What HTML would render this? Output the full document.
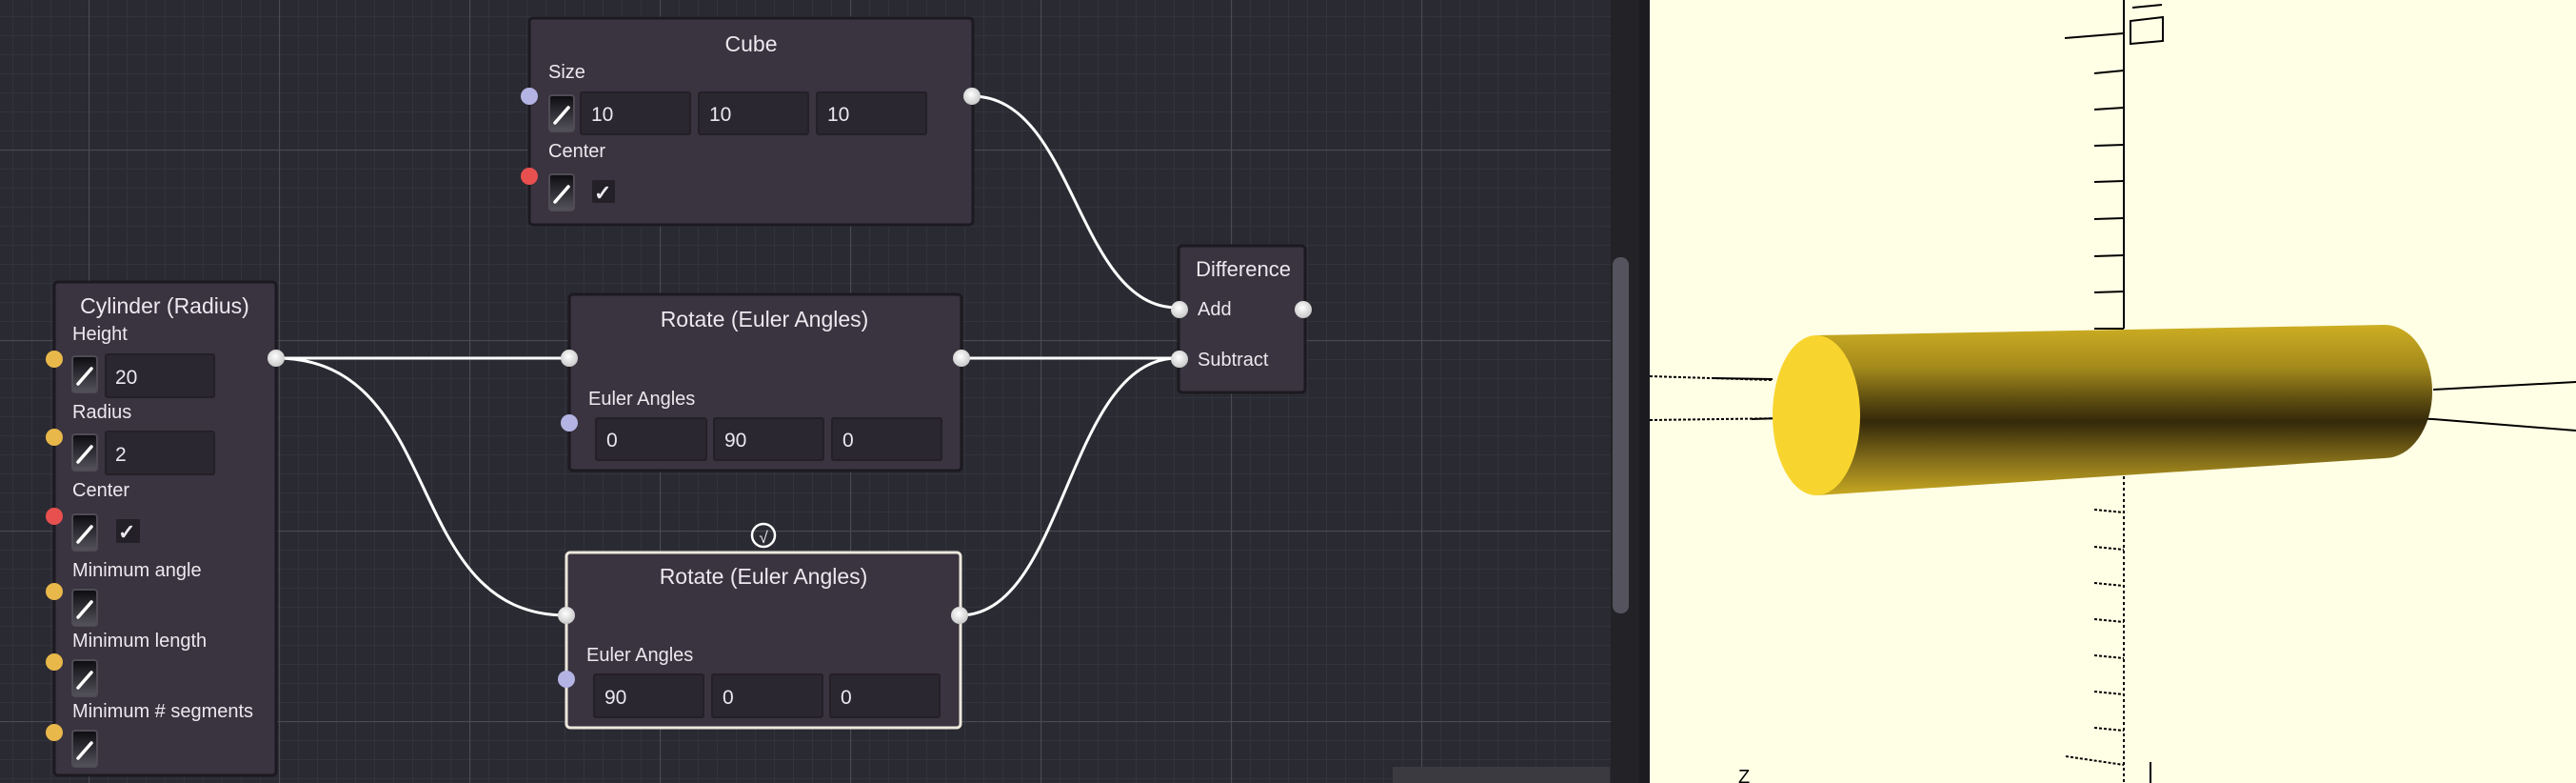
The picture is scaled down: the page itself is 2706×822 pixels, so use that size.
<!DOCTYPE html>
<html><head><meta charset="utf-8"><style>
html,body{margin:0;padding:0;width:2706px;height:822px;overflow:hidden;background:#2a2a32}
svg{display:block}
text{font-family:"Liberation Sans",sans-serif;fill:#ece8ee}
</style></head><body>
<svg width="2706" height="822" xmlns="http://www.w3.org/2000/svg">
<defs>
<pattern id="minor" x="13" y="17" width="20" height="20" patternUnits="userSpaceOnUse">
<path d="M0 0.5H20M0.5 0V20" stroke="#33333c" stroke-width="1"/>
</pattern>
<pattern id="major" x="93" y="157" width="200" height="200" patternUnits="userSpaceOnUse">
<path d="M0 0.5H200M0.5 0V200" stroke="#4a4a53" stroke-width="1.2"/>
</pattern>
<linearGradient id="pen" x1="0" y1="0" x2="0" y2="1"><stop offset="0" stop-color="#0c0c10"/><stop offset="1" stop-color="#55535c"/></linearGradient>
<radialGradient id="wp" cx="0.45" cy="0.4" r="0.6"><stop offset="0" stop-color="#ffffff"/><stop offset="1" stop-color="#c8c8c8"/></radialGradient>
<linearGradient id="cyl" x1="0" y1="0" x2="0" y2="1">
<stop offset="0" stop-color="#cdae22"/><stop offset="0.25" stop-color="#a48a1c"/><stop offset="0.45" stop-color="#5a4a10"/><stop offset="0.57" stop-color="#34290a"/><stop offset="0.8" stop-color="#86701a"/><stop offset="1" stop-color="#c8a922"/>
</linearGradient>
<g id="pencil"><rect x="0" y="0" width="26" height="38" rx="3" fill="url(#pen)" stroke="#4f4c56" stroke-width="2"/><path d="M6 29 L20 13" stroke="#fff" stroke-width="3.5" stroke-linecap="round"/></g>
</defs>
<rect width="1733" height="822" fill="#2a2a32"/>
<rect width="1733" height="822" fill="url(#minor)"/>
<rect width="1733" height="822" fill="url(#major)"/>

<g fill="none" stroke="#ffffff" stroke-width="3">
<path d="M1021 101 C1130 101 1130 323 1237 323"/>
<path d="M290 376 L598 376"/>
<path d="M290 376 C470 376 420 646 595 646"/>
<path d="M1010 376 L1237 376"/>
<path d="M1008 646 C1120 646 1120 376 1237 376"/>
</g>

<rect x="556" y="19" width="466" height="217" rx="4" fill="#3a3340" stroke="#1c1a20" stroke-width="3"/>
<text x="789" y="54" font-size="23" text-anchor="middle">Cube</text>
<text x="576" y="82" font-size="20">Size</text>
<use href="#pencil" x="577" y="100"/>
<rect x="610" y="97" width="115" height="44" rx="2" fill="#2a2730" stroke="#232028" stroke-width="2"/>
<rect x="734" y="97" width="115" height="44" rx="2" fill="#2a2730" stroke="#232028" stroke-width="2"/>
<rect x="858" y="97" width="115" height="44" rx="2" fill="#2a2730" stroke="#232028" stroke-width="2"/>
<text x="621" y="127" font-size="21">10</text><text x="745" y="127" font-size="21">10</text><text x="869" y="127" font-size="21">10</text>
<text x="576" y="165" font-size="20">Center</text>
<use href="#pencil" x="577" y="183"/>
<rect x="622" y="189" width="24" height="24" rx="2" fill="#232127"/><text x="624" y="210" font-size="22" font-weight="bold">✓</text>
<circle cx="556" cy="101" r="9" fill="#b4b4e4"/>
<circle cx="556" cy="185" r="9" fill="#e85050"/>
<circle cx="1021" cy="101" r="9" fill="url(#wp)"/>

<rect x="57" y="296" width="233" height="518" rx="4" fill="#3a3340" stroke="#1c1a20" stroke-width="3"/>
<text x="173" y="329" font-size="23" text-anchor="middle">Cylinder (Radius)</text>
<text x="76" y="357" font-size="20">Height</text>
<use href="#pencil" x="76" y="374"/>
<rect x="111" y="372" width="114" height="45" rx="2" fill="#2a2730" stroke="#232028" stroke-width="2"/><text x="121" y="403" font-size="21">20</text>
<text x="76" y="439" font-size="20">Radius</text>
<use href="#pencil" x="76" y="456"/>
<rect x="111" y="453" width="114" height="45" rx="2" fill="#2a2730" stroke="#232028" stroke-width="2"/><text x="121" y="484" font-size="21">2</text>
<text x="76" y="521" font-size="20">Center</text>
<use href="#pencil" x="76" y="540"/>
<rect x="122" y="545" width="25" height="25" rx="2" fill="#232127"/><text x="124" y="566" font-size="22" font-weight="bold">✓</text>
<text x="76" y="605" font-size="20">Minimum angle</text>
<use href="#pencil" x="76" y="619"/>
<text x="76" y="679" font-size="20">Minimum length</text>
<use href="#pencil" x="76" y="693"/>
<text x="76" y="753" font-size="20">Minimum # segments</text>
<use href="#pencil" x="76" y="767"/>
<circle cx="57" cy="377" r="9" fill="#e8b84a"/>
<circle cx="57" cy="459" r="9" fill="#e8b84a"/>
<circle cx="57" cy="542" r="9" fill="#e85050"/>
<circle cx="57" cy="621" r="9" fill="#e8b84a"/>
<circle cx="57" cy="695" r="9" fill="#e8b84a"/>
<circle cx="57" cy="769" r="9" fill="#e8b84a"/>
<circle cx="290" cy="376" r="9" fill="url(#wp)"/>

<rect x="598" y="309" width="412" height="185" rx="4" fill="#3a3340" stroke="#1c1a20" stroke-width="3"/>
<text x="803" y="343" font-size="23" text-anchor="middle">Rotate (Euler Angles)</text>
<text x="618" y="425" font-size="20">Euler Angles</text>
<rect x="626" y="439" width="116" height="44" rx="2" fill="#2a2730" stroke="#232028" stroke-width="2"/>
<rect x="750" y="439" width="115" height="44" rx="2" fill="#2a2730" stroke="#232028" stroke-width="2"/>
<rect x="874" y="439" width="115" height="44" rx="2" fill="#2a2730" stroke="#232028" stroke-width="2"/>
<text x="637" y="469" font-size="21">0</text><text x="761" y="469" font-size="21">90</text><text x="885" y="469" font-size="21">0</text>
<circle cx="598" cy="376" r="9" fill="url(#wp)"/>
<circle cx="598" cy="444" r="9" fill="#b4b4e4"/>
<circle cx="1010" cy="376" r="9" fill="url(#wp)"/>

<circle cx="802" cy="562" r="12" fill="none" stroke="#fff" stroke-width="2.5"/>
<text x="802" y="570" font-size="17" text-anchor="middle" fill="#fff">√</text>
<rect x="595" y="580" width="414" height="184" rx="4" fill="#3a3340" stroke="#ece8dc" stroke-width="3"/>
<text x="802" y="613" font-size="23" text-anchor="middle">Rotate (Euler Angles)</text>
<text x="616" y="694" font-size="20">Euler Angles</text>
<rect x="624" y="708" width="115" height="45" rx="2" fill="#2a2730" stroke="#232028" stroke-width="2"/>
<rect x="748" y="708" width="116" height="45" rx="2" fill="#2a2730" stroke="#232028" stroke-width="2"/>
<rect x="872" y="708" width="115" height="45" rx="2" fill="#2a2730" stroke="#232028" stroke-width="2"/>
<text x="635" y="739" font-size="21">90</text><text x="759" y="739" font-size="21">0</text><text x="883" y="739" font-size="21">0</text>
<circle cx="595" cy="646" r="9" fill="url(#wp)"/>
<circle cx="595" cy="713" r="9" fill="#b4b4e4"/>
<circle cx="1008" cy="646" r="9" fill="url(#wp)"/>

<rect x="1238" y="258" width="133" height="154" rx="4" fill="#3a3340" stroke="#1c1a20" stroke-width="3"/>
<text x="1306" y="290" font-size="22" text-anchor="middle">Difference</text>
<text x="1258" y="331" font-size="20">Add</text>
<text x="1258" y="384" font-size="20">Subtract</text>
<circle cx="1239" cy="325" r="9" fill="url(#wp)"/>
<circle cx="1369" cy="325" r="9" fill="url(#wp)"/>
<circle cx="1239" cy="377" r="9" fill="url(#wp)"/>

<rect x="1463" y="805" width="228" height="17" fill="#3a3a40"/>
<rect x="1692" y="0" width="30" height="822" fill="#222227"/>
<rect x="1694" y="270" width="17" height="374" rx="8" fill="#55545e"/>
<rect x="1722" y="0" width="11" height="822" fill="#1c1c20"/>

<rect x="1733" y="0" width="973" height="822" fill="#ffffe5"/>
<g stroke="#000" stroke-width="2" fill="none">
<path d="M2231 0 V345"/>
<path d="M2231 500 V822" stroke-dasharray="3 3"/>
<path d="M2169 40 L2231 35"/>
<path d="M2240 8 L2271 5"/>
<path d="M2238 22 L2272 18 L2272 43 L2238 46 Z"/>
<path d="M2200 77 L2231 74 M2200 115 L2231 113 M2200 153 L2231 152 M2200 191 L2231 190 M2200 230 L2231 229 M2200 269 L2231 268 M2200 307 L2231 306 M2200 345 L2231 345"/>
<g stroke-dasharray="3 2"><path d="M2200 535 L2231 538 M2200 574 L2231 577 M2200 612 L2231 615 M2200 650 L2231 653 M2200 688 L2231 691 M2200 726 L2231 729 M2200 764 L2231 767 M2170 794 L2231 803"/>
<path d="M1733 395 L1862 399 M1733 441 L1880 439"/></g>
<path d="M1800 397 L1862 398 M1840 440 L1935 437"/>
<path d="M2556 409 L2706 401 M2556 440 L2706 452 M2243 427 L2556 440"/>
<path d="M2259 800 V822"/>
</g>
<path d="M1909 352 L2505 341 A50 70 0 0 1 2505 481 L1909 520 Z" fill="url(#cyl)"/>
<ellipse cx="1908" cy="436" rx="46" ry="84" fill="#f8d52e"/>
<text x="1826" y="822" font-size="20" style="fill:#000">Z</text>
</svg>
</body></html>
